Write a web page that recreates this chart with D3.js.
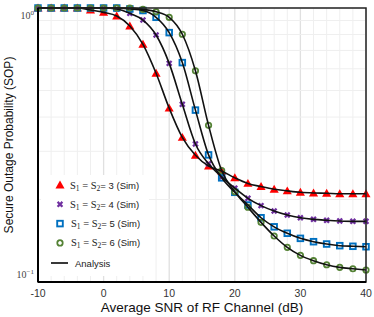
<!DOCTYPE html>
<html>
<head>
<meta charset="utf-8">
<script src="https://cdn.jsdelivr.net/npm/d3@7/dist/d3.min.js"></script>
<style>
  body { margin: 0; background: #fff; }
  svg { display: block; }
</style>
</head>
<body>
<div id="chart-area"></div>
<script>
// data
const snr = [-10, -8, -6, -4, -2, 0, 2, 4, 6, 8, 10, 12, 14, 16, 18, 20, 22, 24, 26, 28, 30, 32, 34, 36, 38, 40];
const sop3 = [1, 1, 1, 1, 0.983, 0.964, 0.935, 0.860, 0.737, 0.578, 0.431, 0.337, 0.290, 0.265, 0.254, 0.240, 0.229, 0.223, 0.218, 0.215, 0.2125, 0.2113, 0.2108, 0.210, 0.210, 0.210];
const sop4 = [1, 1, 1, 1, 1, 1, 0.992, 0.956, 0.904, 0.797, 0.628, 0.445, 0.319, 0.270, 0.242, 0.220, 0.202, 0.190, 0.1816, 0.1756, 0.1716, 0.1693, 0.168, 0.167, 0.1665, 0.1665];
const sop5 = [1, 1, 1, 1, 1, 1, 1, 0.992, 0.979, 0.925, 0.813, 0.632, 0.424, 0.291, 0.240, 0.2125, 0.191, 0.1716, 0.159, 0.1506, 0.1443, 0.1403, 0.1376, 0.1357, 0.135, 0.1345];
const sop6 = [1, 1, 1, 1, 1, 1, 1, 1, 0.989, 0.969, 0.925, 0.802, 0.590, 0.373, 0.255, 0.2136, 0.1874, 0.1651, 0.1472, 0.1338, 0.1251, 0.1196, 0.1156, 0.1131, 0.1118, 0.1106];
const seriesNames = ['3', '4', '5', '6'];
const xTickLabels = ['-10', '0', '10', '20', '30', '40'];

const W = 374, H = 317;
const margin = { left: 38, right: 8, top: 8, bottom: 35 };

const svg = d3.select('#chart-area')
  .append('svg')
    .attr('width', W)
    .attr('height', H);

const x = d3.scaleLinear()
  .domain([-10, 40])
  .range([margin.left, W - margin.right]);

const y = d3.scaleLog()
  .domain([0.1, 1])
  .range([H - margin.bottom, margin.top]);

// grid
const grid = svg.append('g');
grid.selectAll('.vminor')
  .data(x.ticks(25))
  .enter().append('line')
    .attr('x1', d => x(d)).attr('x2', d => x(d))
    .attr('y1', y(0.1)).attr('y2', y(1))
    .attr('stroke', d => d % 10 === 0 ? '#e0e0e0' : '#efefef')
    .attr('stroke-width', d => d % 10 === 0 ? 1.3 : 1);
grid.selectAll('.hminor')
  .data(y.ticks())
  .enter().append('line')
    .attr('x1', x(-10)).attr('x2', x(40))
    .attr('y1', d => y(d)).attr('y2', d => y(d))
    .attr('stroke', '#efefef')
    .attr('stroke-width', 1);

// series
const series = [
  { name: seriesNames[0], values: sop3, color: '#ff0000', shape: 'tri' },
  { name: seriesNames[1], values: sop4, color: '#7030a0', shape: 'x' },
  { name: seriesNames[2], values: sop5, color: '#0070c0', shape: 'sq' },
  { name: seriesNames[3], values: sop6, color: '#548235', shape: 'circ' }
];

function drawMarker(g, shape, color) {
  if (shape === 'tri') {
    g.append('path')
      .attr('d', d3.symbol(d3.symbolTriangle, 36)())
      .attr('transform', 'translate(0,0.8)')
      .attr('fill', color);
  } else if (shape === 'x') {
    g.append('path')
      .attr('d', d3.symbol(d3.symbolCross, 26)())
      .attr('transform', 'rotate(45)')
      .attr('fill', color);
  } else if (shape === 'sq') {
    g.append('rect')
      .attr('x', -2.8).attr('y', -2.8)
      .attr('width', 5.6).attr('height', 5.6)
      .attr('fill', 'none')
      .attr('stroke', color)
      .attr('stroke-width', 1.9);
  } else {
    g.append('circle')
      .attr('r', 2.7)
      .attr('fill', 'none')
      .attr('stroke', color)
      .attr('stroke-width', 1.8);
  }
}

const marks = svg.append('g');
series.forEach(s => {
  snr.forEach((v, i) => {
    const g = marks.append('g')
      .attr('transform', 'translate(' + x(v) + ',' + y(s.values[i]) + ')');
    drawMarker(g, s.shape, s.color);
  });
});

const line = d3.line()
  .x((d, i) => x(snr[i]))
  .y(d => y(d))
  .curve(d3.curveMonotoneX);

series.forEach(s => {
  svg.append('path')
    .attr('d', line(s.values))
    .attr('fill', 'none')
    .attr('stroke', '#111')
    .attr('stroke-width', 1.6);
});

// legend
const legend = svg.append('g');
legend.append('rect')
  .attr('x', 41).attr('y', 175)
  .attr('width', 108).attr('height', 101)
  .attr('fill', '#fff');

const serif = 'Liberation Serif, Times New Roman, serif';
const sans = 'Liberation Sans, Arial, sans-serif';

series.forEach((s, i) => {
  const row = legend.append('g')
    .attr('transform', 'translate(60,' + (185 + i * 19.3) + ')');
  drawMarker(row, s.shape, s.color);
  const t = row.append('text')
    .attr('x', 10 + (i >= 2 ? 1 : 0))
    .attr('y', 3.5)
    .attr('font-size', '10px')
    .attr('fill', '#222');
  t.append('tspan').attr('font-family', serif).attr('font-size', '10.5px').text('S');
  t.append('tspan').attr('font-family', serif).attr('font-size', '7.5px').attr('dy', 2).text('1');
  t.append('tspan').attr('font-family', serif).attr('font-size', '10.5px').attr('dy', -2).text(' = S');
  t.append('tspan').attr('font-family', serif).attr('font-size', '7.5px').attr('dy', 2).text('2');
  t.append('tspan').attr('font-family', sans).attr('font-size', '9.5px').attr('dy', -2).text('= ' + s.name + ' (Sim)');
});

const aRow = legend.append('g').attr('transform', 'translate(0,263)');
aRow.append('line')
  .attr('x1', 51).attr('x2', 68)
  .attr('stroke', '#222').attr('stroke-width', 1.8);
aRow.append('text')
  .attr('x', 75).attr('y', 3.5)
  .attr('font-family', sans)
  .attr('font-size', '9.5px')
  .attr('fill', '#222')
  .text('Analysis');

// frame + axes
svg.append('rect')
  .attr('x', x(-10)).attr('y', y(1))
  .attr('width', x(40) - x(-10)).attr('height', y(0.1) - y(1))
  .attr('fill', 'none')
  .attr('stroke', '#222')
  .attr('stroke-width', 1.5);
svg.append('line')
  .attr('x1', x(-10)).attr('x2', x(-10))
  .attr('y1', y(1)).attr('y2', y(0.1))
  .attr('stroke', '#000').attr('stroke-width', 2);
svg.append('line')
  .attr('x1', x(-10)).attr('x2', x(40))
  .attr('y1', y(0.1)).attr('y2', y(0.1))
  .attr('stroke', '#000').attr('stroke-width', 2);

// x tick labels
svg.selectAll('.xlab')
  .data(xTickLabels)
  .enter().append('text')
    .attr('x', d => x(+d))
    .attr('y', 297)
    .attr('text-anchor', 'middle')
    .attr('font-family', sans)
    .attr('font-size', '10.5px')
    .attr('fill', '#333')
    .text(d => d);

// y tick labels (10^0 and 10^-1)
const yLabels = [{ v: 1, exp: '0', dy: 11 }, { v: 0.1, exp: '\u22121', dy: -4 }];
yLabels.forEach(l => {
  const t = svg.append('text')
    .attr('x', 34)
    .attr('y', y(l.v) + l.dy)
    .attr('text-anchor', 'end')
    .attr('font-family', serif)
    .attr('font-size', '10px')
    .attr('fill', '#444');
  t.append('tspan').text('10');
  t.append('tspan').attr('font-size', '7px').attr('dy', -4).text(l.exp);
});

// titles
svg.append('text')
  .attr('x', (x(-10) + x(40)) / 2)
  .attr('y', 312)
  .attr('text-anchor', 'middle')
  .attr('font-family', sans)
  .attr('font-size', '13.5px')
  .attr('fill', '#111')
  .text('Average SNR of RF Channel (dB)');

svg.append('text')
  .attr('transform', 'translate(13,' + ((y(1) + y(0.1)) / 2) + ') rotate(-90)')
  .attr('text-anchor', 'middle')
  .attr('font-family', sans)
  .attr('font-size', '12px')
  .attr('fill', '#111')
  .text('Secure Outage Probability (SOP)');
</script>
</body>
</html>
